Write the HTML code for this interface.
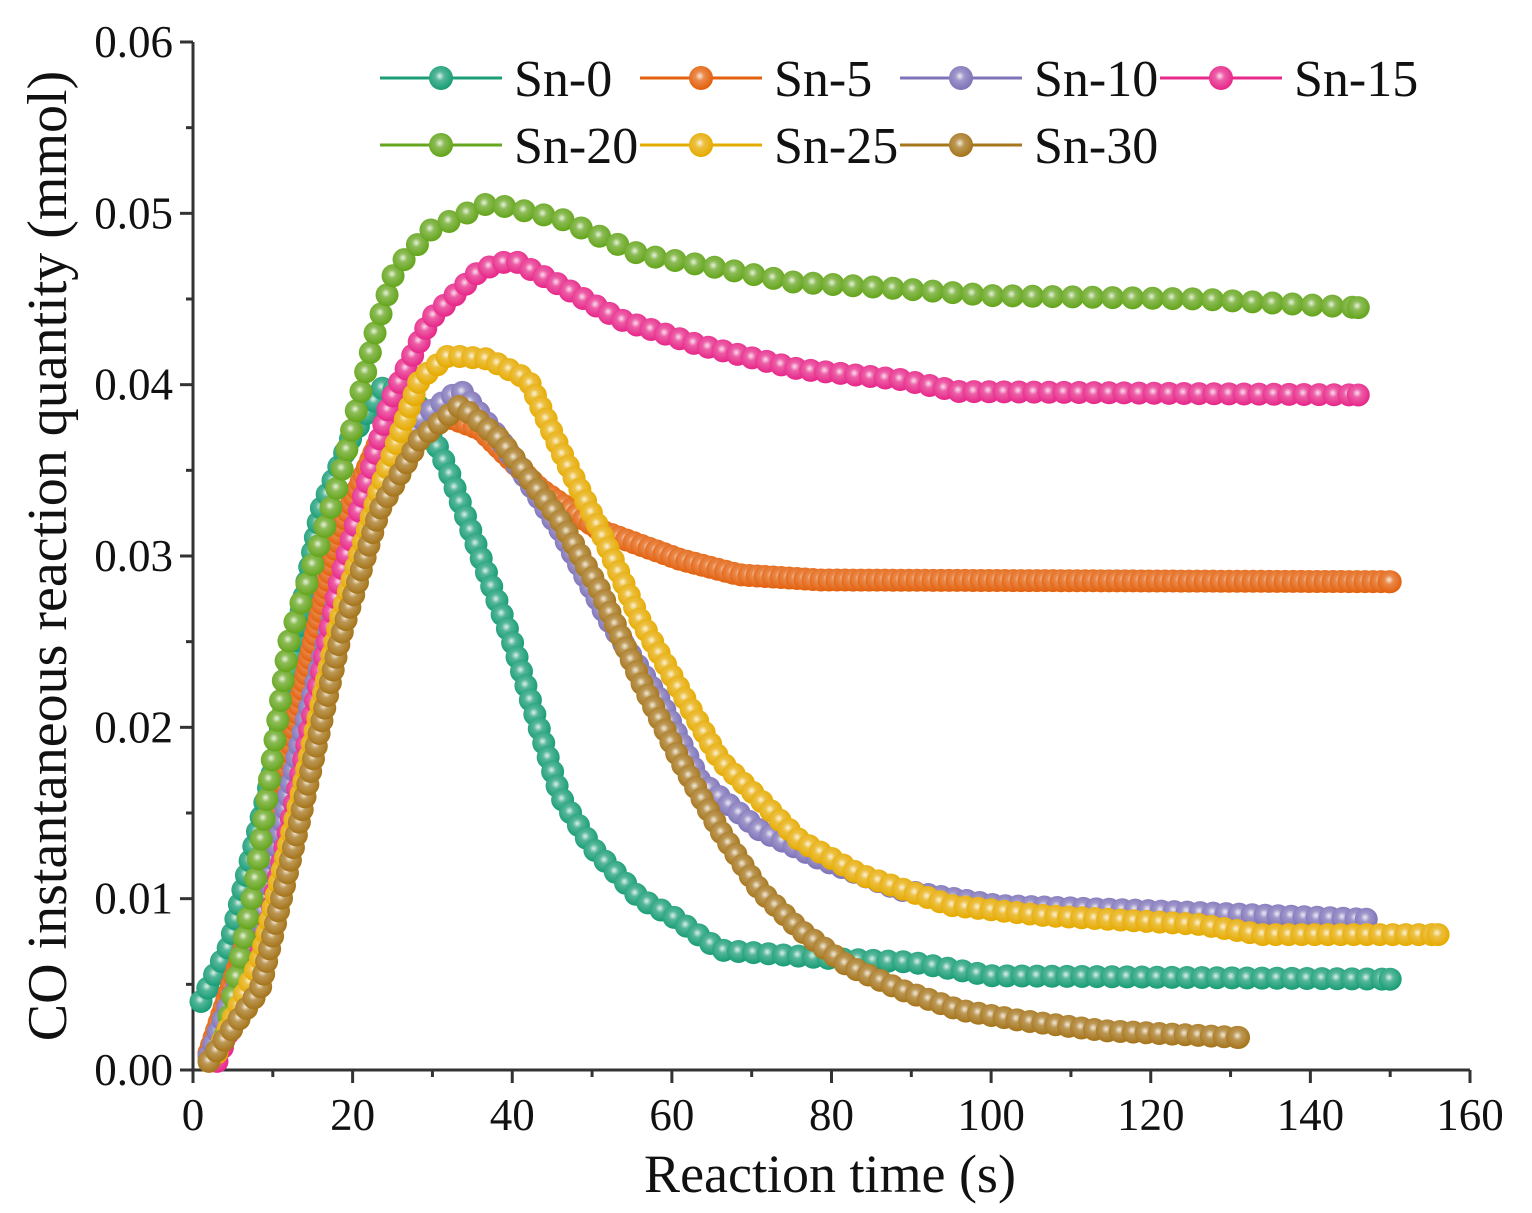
<!DOCTYPE html>
<html><head><meta charset="utf-8"><style>
html,body{margin:0;padding:0;background:#fff;}
svg{display:block;font-family:"Liberation Serif",serif;}
</style></head><body>
<svg id="chart" width="1532" height="1213" viewBox="0 0 1532 1213">
<defs>
<radialGradient id="hl" cx="0.45" cy="0.42" r="0.55"><stop offset="0" stop-color="#fff" stop-opacity="0.85"/><stop offset="0.35" stop-color="#fff" stop-opacity="0.25"/><stop offset="1" stop-color="#fff" stop-opacity="0"/></radialGradient>
</defs>
<g id="axes"></g>
<g id="plot"></g>
<g id="legend"></g>
</svg>
<script>
const seriesNames=["Sn-0","Sn-5","Sn-10","Sn-15","Sn-20","Sn-25","Sn-30"];
const seriesColors=["#1b9e77","#e3620f","#7f74b9","#e7298a","#66a61e","#e6ab02","#a6761d"];
const t0=[1,4.6,6.5,7.8,10.3,12,16,19.7,24,28,32,36,40,46,50,56,60,66,80,90,100,150];
const v0=[0.004,0.0073,0.011,0.0134,0.018,0.023,0.0327,0.0368,0.040,0.039,0.035,0.030,0.025,0.016,0.013,0.010,0.009,0.007,0.0065,0.0063,0.0055,0.0053];
const t5=[2,8.4,13.4,18.4,23.4,29.7,36,43.5,51,61,68.5,78.6,150];
const v5=[0.001,0.0099,0.0216,0.0315,0.0368,0.0385,0.0374,0.0339,0.0315,0.0298,0.0289,0.0286,0.0285];
const t10=[2,8.4,13.4,18.4,23.4,28.4,33.5,38.5,46,52,58.5,63.5,71,78.6,88.6,101,120,147];
const v10=[0.0008,0.0085,0.019,0.028,0.034,0.038,0.0397,0.0368,0.0315,0.0263,0.0216,0.0169,0.014,0.0123,0.0105,0.0096,0.0093,0.0088];
const t15=[3,9,13.4,18.4,24.7,29.7,36,40,46,53.5,63.5,76,88.6,96,146];
const v15=[0.0005,0.0076,0.017,0.0286,0.039,0.0438,0.0467,0.0473,0.0458,0.0438,0.0423,0.0409,0.0403,0.0396,0.0394];
const t20=[4,7.8,12,18.4,22.8,25.3,29.7,37,46,56,66,75,88.6,100,126,146];
const v20=[0.002,0.011,0.025,0.0345,0.043,0.0467,0.049,0.0506,0.0497,0.0476,0.0468,0.046,0.0456,0.0452,0.045,0.0445];
const t25=[3,8.4,13.4,18.4,23.4,28.4,32,37,42,46,51,56,61,66,71,76,83.6,95,107,126,134,156];
const v25=[0.001,0.0064,0.0158,0.0263,0.0339,0.0403,0.0417,0.0415,0.0403,0.0362,0.0315,0.0263,0.0222,0.0181,0.0158,0.0134,0.0114,0.0096,0.009,0.0085,0.0079,0.0079];
const t30=[2,8.4,13.4,18.4,23.4,28.4,33.5,38.5,46,51,56,61,66,71,76,82,88.6,96,103.6,114,131];
const v30=[0.0005,0.0047,0.0146,0.0251,0.0327,0.0368,0.0388,0.0368,0.0321,0.028,0.0228,0.0181,0.014,0.0105,0.0082,0.0061,0.0047,0.0035,0.0029,0.0023,0.0019];
const xTicks=[0,20,40,60,80,100,120,140,160];
const yTicks=[0,0.01,0.02,0.03,0.04,0.05,0.06];
const yTickLabels=["0.00","0.01","0.02","0.03","0.04","0.05","0.06"];
const allT=[t0,t5,t10,t15,t20,t25,t30];
const allV=[v0,v5,v10,v15,v20,v25,v30];
const spacing=[15,8,13,15,20,13,13];

const NS="http://www.w3.org/2000/svg";
const X0=193,X1=1470,Y0=1070,Y1=42;
const xs=t=>X0+(t-0)/(160-0)*(X1-X0);
const ys=v=>Y0-(v-0)/(0.06-0)*(Y0-Y1);
function mk(tag,attrs,parent){const e=document.createElementNS(NS,tag);for(const k in attrs)e.setAttribute(k,attrs[k]);parent.appendChild(e);return e;}
const axes=document.getElementById('axes'),plot=document.getElementById('plot'),legend=document.getElementById('legend');

let a=mk('line',{x1:X0,y1:Y1,x2:X0,y2:Y0+1,stroke:'#333','stroke-width':3},axes);

a=mk('line',{x1:X0-1,y1:Y0,x2:X1,y2:Y0,stroke:'#333','stroke-width':3},axes);

xTicks.forEach((t,i)=>{const x=xs(t);
 let l=mk('line',{x1:x,y1:Y0,x2:x,y2:Y0+13,stroke:'#333','stroke-width':3},axes);
 
 if(i<xTicks.length-1){let m=mk('line',{x1:xs(t+10),y1:Y0,x2:xs(t+10),y2:Y0+7,stroke:'#333','stroke-width':3},axes);
 }
 let tx=mk('text',{x:x,y:Y0+60,'font-size':45,'text-anchor':'middle',fill:'#111'},axes);tx.textContent=t;
 
});
yTicks.forEach((v,i)=>{const y=ys(v);
 let l=mk('line',{x1:X0-13,y1:y,x2:X0,y2:y,stroke:'#333','stroke-width':3},axes);
 
 if(i<yTicks.length-1){let m=mk('line',{x1:X0-7,y1:ys(v+0.005),x2:X0,y2:ys(v+0.005),stroke:'#333','stroke-width':3},axes);
 }
 let tx=mk('text',{x:X0-20,y:y+15,'font-size':45,'text-anchor':'end',fill:'#111'},axes);tx.textContent=yTickLabels[i];
 
});
let xt=mk('text',{x:830,y:1192,'font-size':54,'text-anchor':'middle',fill:'#111','xml:space':'preserve'},axes);xt.textContent="Reaction time  (s)";

let yt=mk('text',{x:0,y:0,'font-size':56,'text-anchor':'middle',fill:'#111',transform:'translate(66,556) rotate(-90)','xml:space':'preserve'},axes);yt.textContent="CO instantaneous reaction quantity  (mmol)";


function ball(parent,x,y,c,r){
 const g=mk('g',{},parent);
 mk('circle',{cx:x,cy:y,r:r,fill:c},g);
 mk('circle',{cx:x,cy:y,r:r,fill:'url(#hl)'},g);
 return g;
}
allT.forEach((T,si)=>{
 const c=seriesColors[si];
 const g=mk('g',{},plot);
 
 
 const pts=T.map((t,i)=>[xs(t),ys(allV[si][i])]);
 const ln=mk('polyline',{points:pts.map(p=>p.join(',')).join(' '),fill:'none',stroke:c,'stroke-width':3},g);
 
 let carry=0;const sp=spacing[si];
 for(let i=0;i<pts.length-1;i++){
  const [ax,ay]=pts[i],[bx,by]=pts[i+1];const L=Math.hypot(bx-ax,by-ay);
  let d=carry;
  while(d<=L){const f=d/L;const m=ball(g,ax+(bx-ax)*f,ay+(by-ay)*f,c,11.5);
   
   
   d+=sp;}
  carry=d-L;
 }
 const last=pts[pts.length-1];const m=ball(g,last[0],last[1],c,11.5);
 
 
});
const legX=[380,640,900,1160],legY=[78,145];
seriesNames.forEach((n,i)=>{
 const x=legX[i%4],y=legY[Math.floor(i/4)];
 const g=mk('g',{},legend);
 
 
 mk('line',{x1:x,y1:y,x2:x+122,y2:y,stroke:seriesColors[i],'stroke-width':3},g);
 ball(g,x+61,y,seriesColors[i],12);
 const tx=mk('text',{x:x+134,y:y+18,'font-size':52,fill:'#111'},g);tx.textContent=n;
});
</script>
</body></html>
